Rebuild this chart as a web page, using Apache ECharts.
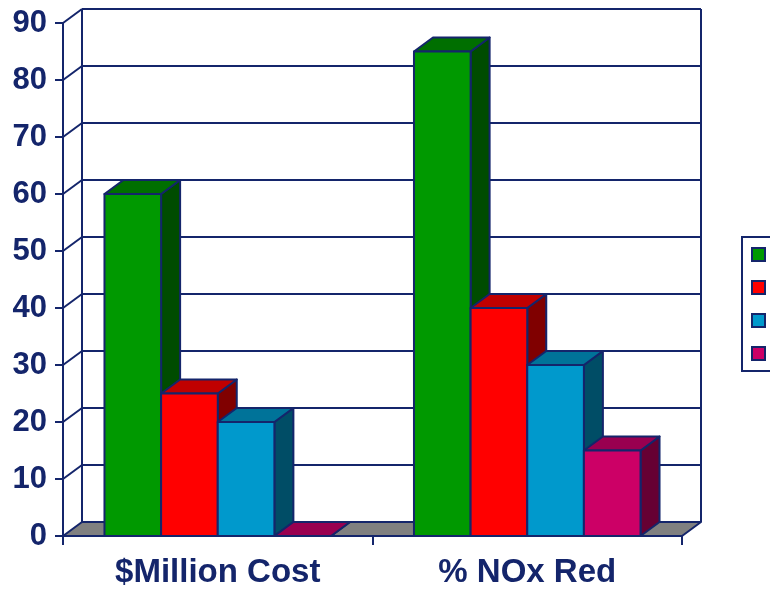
<!DOCTYPE html>
<html>
<head>
<meta charset="utf-8">
<script src="https://cdn.jsdelivr.net/npm/echarts@6/dist/echarts.min.js"></script>
<style>
html, body { margin: 0; padding: 0; background: #fff; }
#chart { width: 770px; height: 589px; }
</style>
</head>
<body>
<div id="chart"></div>
<script>
var categories = ['$Million Cost', '% NOx Red'];
var seriesNames = ['Option 1', 'Option 2', 'Option 3', 'Option 4'];
var series1 = [60, 85];
var series2 = [25, 40];
var series3 = [20, 30];
var series4 = [0, 15];
var yTicks = [0, 10, 20, 30, 40, 50, 60, 70, 80, 90];

var frontColors = ['#009900', '#ff0000', '#0099cc', '#cc0066'];
var topColors = ['#006f00', '#c00000', '#007399', '#990050'];
var sideColors = ['#004c00', '#800000', '#004d66', '#660033'];
var navy = '#14256b';
var DX = 19, DY = -14;

// 3d-ish bar: side face, top face, then front face
function barRenderer(k) {
    return function (params, api) {
        var cat = api.value(0);
        var val = api.value(1);
        var base = api.coord([cat, 0]);
        var top = api.coord([cat, val]);
        var bw = api.size([1, 0])[0] * 0.183;
        var x0 = base[0] + (k - 2) * bw;
        var x1 = x0 + bw;
        var yb = base[1], yt = top[1];
        var line = { stroke: navy, lineWidth: 2, lineJoin: 'round' };
        return {
            type: 'group',
            children: [{
                type: 'polygon',
                shape: { points: [[x1, yb], [x1 + DX, yb + DY], [x1 + DX, yt + DY], [x1, yt]] },
                style: Object.assign({ fill: sideColors[k] }, line)
            }, {
                type: 'polygon',
                shape: { points: [[x0, yt], [x0 + DX, yt + DY], [x1 + DX, yt + DY], [x1, yt]] },
                style: Object.assign({ fill: topColors[k] }, line)
            }, {
                type: 'rect',
                shape: { x: x0, y: yt, width: bw, height: yb - yt },
                style: Object.assign({ fill: frontColors[k] }, line)
            }]
        };
    };
}

// back wall gridlines, left wall diagonals and the floor
function wallRenderer(params, api) {
    var cs = params.coordSys;
    var v = api.value(1);
    var yf = api.coord([0, v])[1];
    var yb = yf + DY;
    var xl = cs.x, xr = cs.x + cs.width;
    var line = { stroke: navy, lineWidth: 2 };
    var children = [];
    if (v === 0) {
        children.push({
            type: 'polygon',
            shape: { points: [[xl, yf], [xl + DX, yb], [xr + DX, yb], [xr, yf]] },
            style: { fill: '#808080', stroke: navy, lineWidth: 2, lineJoin: 'round' }
        });
        children.push({
            type: 'line',
            shape: { x1: xl + DX, y1: cs.y + DY, x2: xl + DX, y2: yb },
            style: line
        });
        children.push({
            type: 'line',
            shape: { x1: xr + DX, y1: cs.y + DY, x2: xr + DX, y2: yb },
            style: line
        });
    } else {
        children.push({
            type: 'line',
            shape: { x1: xl + DX, y1: yb, x2: xr + DX, y2: yb },
            style: line
        });
        children.push({
            type: 'line',
            shape: { x1: xl, y1: yf, x2: xl + DX, y2: yb },
            style: line
        });
    }
    return { type: 'group', children: children };
}

var allValues = [series1, series2, series3, series4];
var barSeries = allValues.map(function (vals, k) {
    return {
        name: seriesNames[k],
        type: 'custom',
        renderItem: barRenderer(k),
        itemStyle: { color: frontColors[k] },
        encode: { x: 0, y: 1 },
        data: vals.map(function (v, i) { return [i, v]; }),
        z: 5 + k
    };
});

var wallSeries = {
    name: 'walls',
    type: 'custom',
    renderItem: wallRenderer,
    encode: { x: 0, y: 1 },
    data: yTicks.map(function (v) { return [0, v]; }),
    silent: true,
    z: 1
};

var labelFont = {
    fontFamily: 'Liberation Sans, Arial, sans-serif',
    fontWeight: 'bold',
    color: navy
};

var option = {
    animation: false,
    backgroundColor: '#fff',
    grid: { left: 63, right: 88, top: 23, bottom: 51 },
    legend: {
        data: seriesNames,
        orient: 'vertical',
        left: 742,
        top: 237,
        icon: 'rect',
        itemWidth: 13,
        itemHeight: 13,
        itemGap: 18,
        padding: [10, 40, 10, 9],
        borderColor: navy,
        borderWidth: 2,
        backgroundColor: '#fff',
        itemStyle: { borderColor: navy, borderWidth: 2 },
        textStyle: { color: navy, fontSize: 14, fontWeight: 'bold', padding: [0, 0, 0, 4] }
    },
    xAxis: {
        type: 'category',
        data: categories,
        z: 20,
        axisLine: { lineStyle: { color: navy, width: 2 } },
        axisTick: { show: true, length: 9, lineStyle: { color: navy, width: 2 } },
        axisLabel: Object.assign({ margin: 20, interval: 0, fontSize: 33 }, labelFont),
        splitLine: { show: false }
    },
    yAxis: {
        type: 'value',
        min: 0,
        max: 90,
        interval: 10,
        z: 20,
        axisLine: { show: true, lineStyle: { color: navy, width: 2 } },
        axisTick: { show: true, length: 8, lineStyle: { color: navy, width: 2 } },
        axisLabel: Object.assign({ margin: 16, fontSize: 31 }, labelFont),
        splitLine: { show: false }
    },
    series: [wallSeries].concat(barSeries)
};

var myChart = echarts.init(document.getElementById('chart'));
myChart.setOption(option);
</script>
</body>
</html>
